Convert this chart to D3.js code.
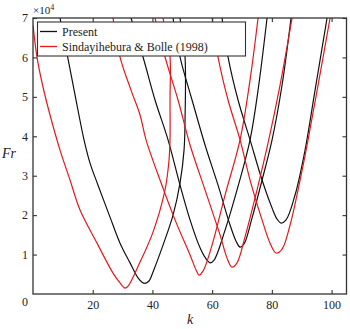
<!DOCTYPE html>
<html><head><meta charset="utf-8">
<script src="https://cdn.jsdelivr.net/npm/d3@7"></script>
<style>body{margin:0;background:#fff}svg{display:block}svg text{font-family:"Liberation Serif",serif !important;fill:#222}</style>
</head><body>
<svg id="c" width="350" height="329"></svg>
<script>
// Fr values in units of 1e4, k dimensionless
const present1 = [[9.05,7.0],[11.62,6.01],[14.74,4.79],[17.09,3.91],[19.10,3.32],[21.78,2.76],[25.80,1.95],[29.15,1.29],[32.50,0.79],[35.18,0.41],[36.52,0.30],[37.52,0.27],[38.86,0.33],[40.2,0.56],[43.55,1.24],[46.9,2.0],[49.25,2.82],[50.59,3.65],[50.92,4.41],[50.92,6.01],[49.92,6.57],[49.25,7.0]];
const present2 = [[32.83,7.0],[36.85,6.01],[40.87,4.92],[45.23,3.91],[49.25,2.76],[52.60,1.88],[55.95,1.17],[57.96,0.89],[59.30,0.79],[60.64,0.86],[64.32,1.62],[68.34,2.64],[72.70,3.91],[75.38,5.17],[78.39,7.0]];
const present3 = [[46.90,7.0],[49.25,6.01],[53.27,4.92],[57.62,3.78],[61.98,2.76],[66.0,1.75],[68.01,1.34],[69.35,1.19],[70.69,1.27],[73.37,1.93],[76.72,2.89],[80.07,3.91],[83.42,5.30],[86.43,7.0]];
const present4 = [[63.32,7.0],[65.33,6.01],[68.68,4.92],[72.70,3.91],[76.72,2.89],[80.07,2.18],[81.74,1.90],[83.08,1.80],[84.76,1.88],[87.77,2.51],[91.12,3.65],[94.47,5.17],[98.49,7.0]];
const sb1 = [[0,6.82],[1.34,6.01],[3.35,5.25],[5.70,4.54],[9.05,3.65],[12.40,2.89],[15.75,2.13],[21.44,1.29],[26.80,0.53],[29.15,0.28],[30.82,0.15],[31.83,0.20],[35.85,0.81],[40.2,1.57],[44.22,2.64],[45.56,3.40],[45.89,3.91],[45.89,4.92],[45.89,6.01],[44.56,6.57],[43.55,7.0]];
const sb2 = [[26.8,7.0],[29.15,6.01],[32.83,5.17],[35.85,4.54],[37.86,3.91],[42.55,2.89],[47.57,1.88],[52.6,0.99],[54.61,0.61],[55.61,0.48],[56.95,0.58],[59.97,1.24],[64.32,2.51],[69.35,3.91],[72.70,5.43],[75.38,7.0]];
const sb3 = [[40.87,7.0],[44.22,6.01],[48.58,4.92],[52.60,3.78],[57.62,2.64],[62.65,1.50],[64.99,0.91],[66.67,0.68],[68.34,0.79],[71.02,1.45],[75.04,2.64],[78.73,3.83],[82.75,5.30],[86.77,7.0]];
const sb4 = [[59.97,7.0],[61.98,6.01],[65.33,4.92],[69.35,3.91],[72.70,2.89],[76.72,1.88],[79.40,1.29],[81.41,1.04],[83.42,1.14],[86.10,1.75],[88.78,2.64],[92.13,3.91],[95.48,5.30],[99.50,7.0]];
const xTicks = [20,40,60,80,100];
const yTicks = [1,2,3,4,5,6,7];
const legendLabels = ["Present","Sindayihebura & Bolle (1998)"];

const FONT = "'Liberation Serif', serif";
const svg = d3.select("#c");
const x = d3.scaleLinear().domain([0,105]).range([33,346.5]);
const y = d3.scaleLinear().domain([0,7]).range([294,18]);
const line = d3.line().x(d=>x(d[0])).y(d=>y(d[1])).curve(d3.curveCatmullRom.alpha(0.5));

svg.append("clipPath").attr("id","clip").append("rect")
  .attr("x",33).attr("y",18).attr("width",313.5).attr("height",276);
const g = svg.append("g").attr("clip-path","url(#clip)");
[present1,present2,present3,present4].forEach(c=>{
  g.append("path").attr("d",line(c)).attr("fill","none").attr("stroke","#111").attr("stroke-width",1.2);
});
[sb1,sb2,sb3,sb4].forEach(c=>{
  g.append("path").attr("d",line(c)).attr("fill","none").attr("stroke","#e3191c").attr("stroke-width",1.2);
});

// frame
svg.append("rect").attr("x",33).attr("y",18).attr("width",313.5).attr("height",276)
  .attr("fill","none").attr("stroke","#333").attr("stroke-width",1.3);
// ticks
const axB = d3.axisBottom(x).tickValues(xTicks).tickSize(-4).tickFormat(d=>d);
const axT = d3.axisTop(x).tickValues(xTicks).tickSize(-4).tickFormat("");
const axL = d3.axisLeft(y).tickValues(yTicks).tickSize(-4).tickFormat(d=>d);
const axR = d3.axisRight(y).tickValues(yTicks).tickSize(-4).tickFormat("");
function style(sel){sel.attr("font-family",FONT);sel.select(".domain").remove();sel.selectAll(".tick line").attr("stroke","#333").attr("stroke-width",1.1);sel.selectAll("text").style("font-family",FONT).attr("font-size",12).attr("fill","#222");}
svg.append("g").attr("transform","translate(0,294)").call(axB).call(style).selectAll("text").attr("dy","0").attr("y",15);
svg.append("g").attr("transform","translate(0,18)").call(axT).call(style);
svg.append("g").attr("transform","translate(33,0)").call(axL).call(style).selectAll("text").attr("x",-5);
svg.append("g").attr("transform","translate(346.5,0)").call(axR).call(style);
svg.append("text").attr("x",25).attr("y",306).attr("text-anchor","middle").attr("font-size",12).style("font-family",FONT).text("0");

// multiplier
const mt = svg.append("text").attr("x",33).attr("y",14).attr("font-size",11).style("font-family",FONT);
mt.append("tspan").text("×10");
mt.append("tspan").attr("dy",-4).attr("font-size",8).text("4");

// axis labels
svg.append("text").attr("x",9).attr("y",158).attr("text-anchor","middle").attr("font-size",14).attr("font-style","italic").style("font-family",FONT).text("Fr");
svg.append("text").attr("x",190).attr("y",324).attr("text-anchor","middle").attr("font-size",14).attr("font-style","italic").style("font-family",FONT).text("k");

// legend
const lg = svg.append("g");
lg.append("rect").attr("x",37.5).attr("y",22).attr("width",208).attr("height",34).attr("fill","#fff").attr("stroke","#333").attr("stroke-width",1.1);
const legColors = ["#111","#e3191c"];
legendLabels.forEach((t,i)=>{
  const yy = 31.5 + i*15;
  lg.append("line").attr("x1",40).attr("x2",57).attr("y1",yy).attr("y2",yy).attr("stroke",legColors[i]).attr("stroke-width",1.3);
  lg.append("text").attr("x",62).attr("y",yy+4.2).attr("font-size",12).style("font-family",FONT).text(t);
});
</script>
</body></html>
